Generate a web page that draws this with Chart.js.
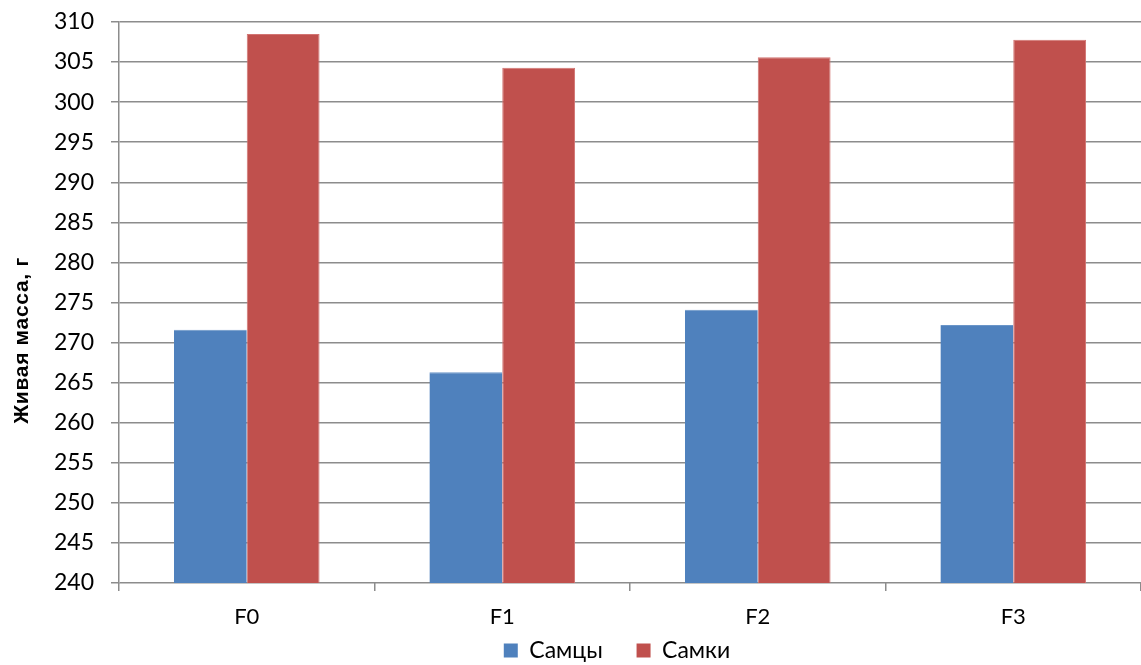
<!DOCTYPE html>
<html>
<head>
<meta charset="utf-8">
<script src="https://cdn.jsdelivr.net/npm/chart.js@4"></script>
<style>
  html, body { margin: 0; padding: 0; background: #fff; }
  #wrap { width: 1141px; height: 665px; position: relative; }
</style>
</head>
<body>
<div id="wrap"><canvas id="c"></canvas></div>
<script>
// Generations and live weight (g) by sex
const generations = ['F0', 'F1', 'F2', 'F3'];
const males = [271.6, 266.3, 274.1, 272.2];
const females = [308.5, 304.3, 305.6, 307.8];
const seriesNames = ['Самцы', 'Самки'];
const yMin = 240, yMax = 310, yStep = 5;
const yTitle = 'Живая масса, г';

const gridGray = '#8c8c8c';
const font = 'Lato, "Open Sans", "Liberation Sans", sans-serif';

// Vertical axis caption, drawn somewhat below the middle of the plot
const axisCaption = {
  id: 'axisCaption',
  afterDraw(chart) {
    const { ctx, chartArea } = chart;
    ctx.save();
    ctx.translate(22, (chartArea.top + chartArea.bottom) / 2 + 38);
    ctx.rotate(-Math.PI / 2);
    ctx.font = 'bold 21px "Liberation Sans", Arial, sans-serif';
    if ('letterSpacing' in ctx) ctx.letterSpacing = '0.7px';
    ctx.fillStyle = '#000';
    ctx.textAlign = 'center';
    ctx.textBaseline = 'middle';
    ctx.fillText(yTitle, 0, 0);
    ctx.restore();
  }
};

// Legend sits a bit right of the canvas centre
const legendShift = {
  id: 'legendShift',
  afterLayout(chart) {
    const lg = chart.legend;
    if (lg) { lg.left += 42; lg.right += 42; }
  }
};

new Chart(document.getElementById('c'), {
  type: 'bar',
  data: {
    labels: generations,
    datasets: [
      { label: seriesNames[0], data: males, backgroundColor: '#4F81BD', borderColor: '#6a95c8', borderWidth: { top: 1, left: 0, right: 0, bottom: 0 } },
      { label: seriesNames[1], data: females, backgroundColor: '#C0504D', borderColor: '#d27472', borderWidth: { top: 1, left: 1, right: 1, bottom: 0 } }
    ]
  },
  plugins: [axisCaption, legendShift],
  options: {
    responsive: true,
    maintainAspectRatio: false,
    animation: false,
    layout: { padding: { top: 22, right: 0, left: 9, bottom: -7 } },
    datasets: { bar: { categoryPercentage: 0.57, barPercentage: 1 } },
    plugins: {
      legend: {
        position: 'bottom',
        labels: {
          font: { family: font, size: 23 },
          color: '#000',
          boxWidth: 14, boxHeight: 14,
          padding: 5,
          generateLabels(chart) {
            const items = Chart.defaults.plugins.legend.labels.generateLabels(chart);
            items.forEach((it, i) => {
              it.lineWidth = 0;
              if (i < items.length - 1) it.text = it.text + '\u2003\u2002';
            });
            return items;
          }
        }
      },
      tooltip: { enabled: false }
    },
    scales: {
      x: {
        grid: { offset: true, drawOnChartArea: false, tickLength: 8, color: gridGray, lineWidth: 1.5 },
        border: { display: false },
        ticks: { font: { family: font, size: 22 }, color: '#000', padding: 13 },
        afterFit(scale) { scale.height = 51; }
      },
      y: {
        min: yMin, max: yMax,
        ticks: { stepSize: yStep, font: { family: font, size: 23 }, color: '#000', padding: 17 },
        grid: { color: gridGray, lineWidth: 1.5, tickLength: 8 },
        border: { color: gridGray, width: 1.5 },
        title: { display: false },
        afterFit(scale) {
          scale.width = 110;
          scale.paddingTop = 0;
          scale.paddingBottom = 0;
        }
      }
    }
  }
});
</script>
</body>
</html>
